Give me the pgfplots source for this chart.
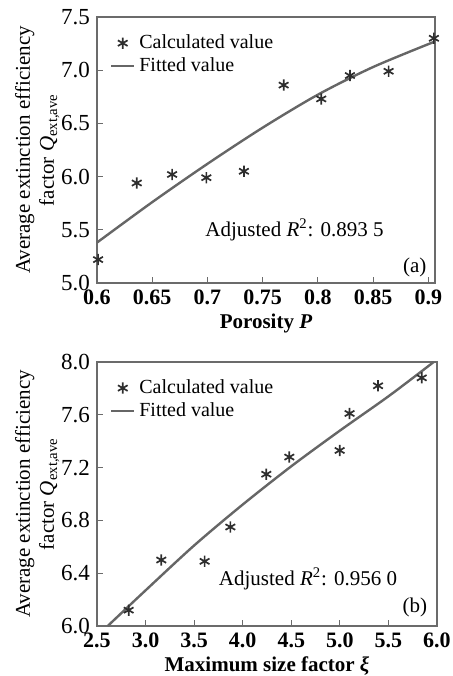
\documentclass[border=0pt]{standalone}
\usepackage{fontspec}
\setmainfont{Liberation Serif}
\usepackage{pgfplots}
\pgfplotsset{compat=1.18}

\definecolor{axgray}{gray}{0.42}
\definecolor{fitgray}{gray}{0.40}
\definecolor{ptgray}{gray}{0.18}

\pgfplotsset{
  panel/.style={
    scale only axis,
    axis line style={axgray, line width=0.6pt},
    tick style={axgray, line width=0.5pt},
    tick align=inside,
    xtick pos=bottom, ytick pos=left,
    major tick length=3pt,
    /pgf/number format/assume math mode=true,
    xticklabel style={font=\fontsize{11}{12}\selectfont\bfseries},
    yticklabel style={font=\fontsize{11.5}{12}\selectfont},
    xlabel style={font=\fontsize{10.5}{12}\selectfont\bfseries},
    xlabel shift=-2.5pt,
    ylabel style={font=\fontsize{10.5}{12}\selectfont, align=center},
    ylabel shift=-6pt,
    legend style={draw=none, fill=none, anchor=north west,
      font=\fontsize{10}{11}\selectfont, row sep=-1pt},
    legend cell align=left,
  },
  calc/.style={only marks, mark=asterisk, mark size=2.8pt, ptgray, line width=0.85pt,
    legend image code/.code={\draw[mark repeat=2, mark phase=2]
      plot coordinates {(0cm,0cm) (0.2cm,0cm) (0.4cm,0cm)};}},
  fit/.style={no marks, smooth, fitgray, line width=1.2pt,
    legend image code/.code={\draw (0cm,0cm) -- (0.4cm,0cm);}},
}

\begin{document}
\begin{tikzpicture}
% panel (a)
\begin{axis}[panel,
  width=169pt, height=133pt,
  xmin=0.6, xmax=0.906, ymin=5.0, ymax=7.5,
  xtick={0.6,0.65,0.7,0.75,0.8,0.85,0.9},
  xticklabels={0.6,0.65,0.7,0.75,0.8,0.85,0.9},
  ytick={5.0,5.5,6.0,6.5,7.0,7.5},
  yticklabel style={/pgf/number format/.cd, fixed, fixed zerofill, precision=1},
  xlabel={Porosity \textit{P}},
  ylabel={Average extinction efficiency\\factor \textit{Q}\textsubscript{ext,ave}},
  legend style={at={(0.02,0.965)}},
  clip=false,
]
\addplot[calc] coordinates {
  (0.601,5.22) (0.636,5.94) (0.668,6.02) (0.699,5.99) (0.733,6.05)
  (0.769,6.86) (0.803,6.73) (0.829,6.95) (0.864,6.99) (0.905,7.30)
};
\addlegendentry{Calculated value}
\addplot[fit] coordinates {
  (0.6,5.38) (0.65,5.76) (0.7,6.12) (0.75,6.46) (0.8,6.77) (0.85,7.03) (0.906,7.27)
};
\addlegendentry{Fitted value}
\node[anchor=west, font=\fontsize{10.5}{12}\selectfont] at (rel axis cs:0.3,0.2) {Adjusted \textit{R}\textsuperscript{2}: 0.893 5};
\node[font=\fontsize{10.5}{12}\selectfont] at (rel axis cs:0.94,0.06) {(a)};
\end{axis}

% panel (b)
\begin{axis}[panel, at={(0pt,-171.5pt)},
  width=170pt, height=132pt,
  xmin=2.5, xmax=6.0, ymin=6.0, ymax=8.0,
  xtick={2.5,3.0,...,6.0},
  ytick={6.0,6.4,6.8,7.2,7.6,8.0},
  xticklabel style={/pgf/number format/.cd, fixed, fixed zerofill, precision=1},
  yticklabel style={/pgf/number format/.cd, fixed, fixed zerofill, precision=1},
  xlabel={Maximum size factor \textit{ξ}},
  ylabel={Average extinction efficiency\\factor \textit{Q}\textsubscript{ext,ave}},
  legend style={at={(0.02,0.965)}},
  clip=false,
]
\addplot[calc] coordinates {
  (2.826,6.12) (3.162,6.50) (3.608,6.49) (3.873,6.75) (4.243,7.15)
  (4.480,7.28) (4.998,7.33) (5.100,7.61) (5.393,7.82) (5.843,7.88)
};
\addlegendentry{Calculated value}
\addplot[fit] coordinates {
  (2.61,6.0) (3.0,6.27) (3.5,6.61) (4.0,6.92) (4.5,7.21) (5.0,7.48) (5.5,7.74) (5.966,8.0)
};
\addlegendentry{Fitted value}
\node[anchor=west, font=\fontsize{10.5}{12}\selectfont] at (rel axis cs:0.338,0.18) {Adjusted \textit{R}\textsuperscript{2}: 0.956 0};
\node[font=\fontsize{10.5}{12}\selectfont] at (rel axis cs:0.935,0.07) {(b)};
\end{axis}
\pgfresetboundingbox
\path (-48.5pt,-196.5pt) rectangle (178pt,141.5pt);
\end{tikzpicture}
\end{document}
